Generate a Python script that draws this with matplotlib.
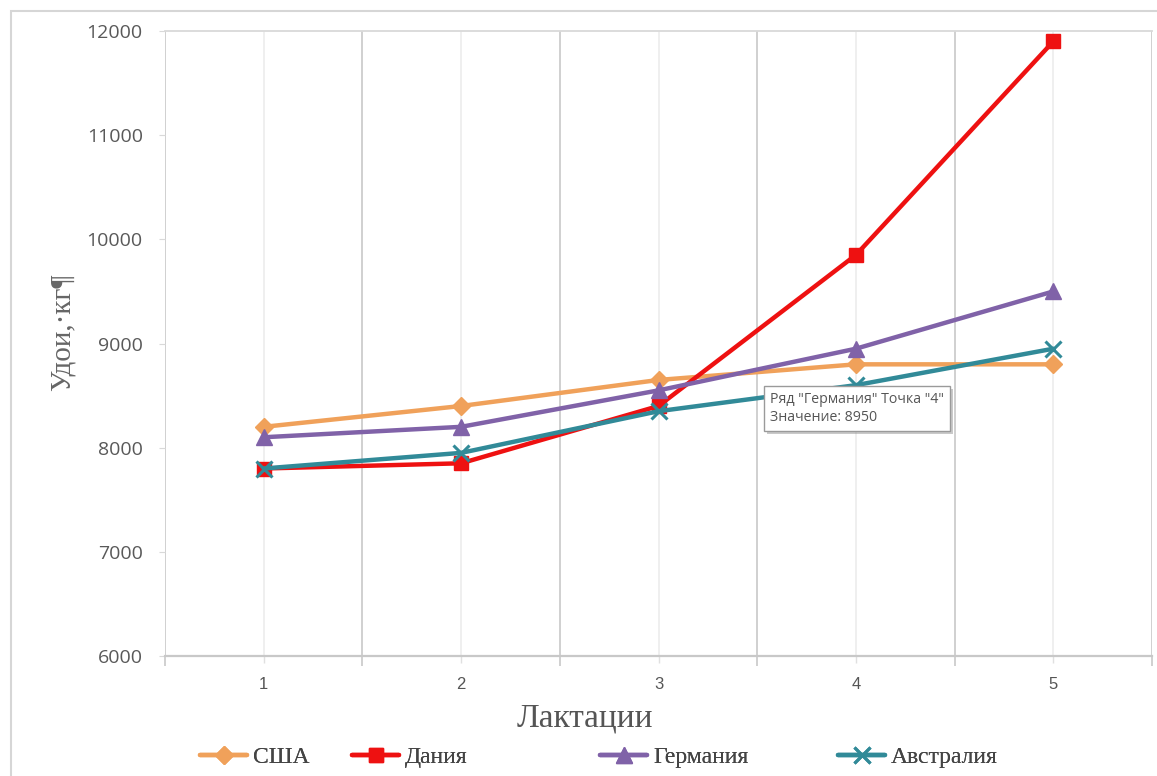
import matplotlib
matplotlib.use("Agg")
import matplotlib.pyplot as plt
import matplotlib.patheffects as pe
from matplotlib.lines import Line2D
from matplotlib.patches import Rectangle
from matplotlib.ticker import FixedLocator, NullFormatter

# ---- data ----
lactations = [1, 2, 3, 4, 5]
lactation_labels = ["1", "2", "3", "4", "5"]
usa = [8200, 8400, 8650, 8800, 8800]
denmark = [7800, 7850, 8400, 9850, 11900]
germany = [8100, 8200, 8550, 8950, 9500]
australia = [7800, 7950, 8350, 8600, 8950]
series_names = ["США", "Дания", "Германия", "Австралия"]
y_ticks = [6000, 7000, 8000, 9000, 10000, 11000, 12000]

W, H = 1157, 776
fig = plt.figure(figsize=(W / 100, H / 100), dpi=100)
fig.patch.set_facecolor("white")

# outer chart border (cropped image)
fig.patches.append(Rectangle((11 / W, -0.05), 1.2, (H - 11) / H + 0.05,
                             transform=fig.transFigure, fill=False,
                             edgecolor="#D6D6D6", linewidth=1.5))

ax = fig.add_axes([165 / W, 1 - 656 / H, (1152 - 165) / W, (656 - 31) / H])

styles = [
    (usa, "#F0A15A", "D", 9),
    (denmark, "#EE1111", "s", 10.5),
    (germany, "#8062A8", "^", 11.5),
    (australia, "#318A98", "x", 11),
]
handles = []
for (vals, col, mk, ms), name in zip(styles, series_names):
    kw = dict(color=col, linewidth=3.2, marker=mk, markersize=ms,
              markerfacecolor=col, markeredgecolor=col, solid_capstyle="round")
    if mk == "x":
        kw["markeredgewidth"] = 2.2
    ax.plot(lactations, vals, zorder=3, **kw)
    handles.append(Line2D([], [], label=name, **kw))

ax.set_xlim(0.5, 5.5)
ax.set_ylim(6000, 12000)

# x axis: boundaries as major (grid, ticks), categories as minor (labels)
ax.xaxis.set_major_locator(FixedLocator([0.5, 1.5, 2.5, 3.5, 4.5, 5.5]))
ax.xaxis.set_major_formatter(NullFormatter())
ax.xaxis.set_minor_locator(FixedLocator(lactations))
ax.set_xticklabels(lactation_labels, minor=True)
ax.tick_params(axis="x", which="major", length=7, color="#C8C8C8", width=1.2)
ax.tick_params(axis="x", which="minor", length=5, color="#E0E0E0", width=1,
               pad=10, labelsize=12, labelcolor="#555555")
ax.grid(True, axis="x", which="major", color="#D0D0D0", linewidth=1.4, zorder=0)
ax.grid(True, axis="x", which="minor", color="#EBEBEB", linewidth=1.1, zorder=0)
ax.set_axisbelow(True)

ax.set_yticks(y_ticks)
ax.tick_params(axis="y", length=4, color="#D9D9D9", pad=12,
               labelsize=14, labelcolor="#595959")
for lab in ax.get_yticklabels():
    lab.set_fontfamily("Open Sans")
for lab in ax.get_xticklabels(minor=True):
    lab.set_fontfamily("Liberation Sans")

for s in ["left", "right"]:
    ax.spines[s].set_visible(False)
ax.spines["top"].set_color("#D9D9D9")
ax.spines["top"].set_linewidth(1.3)
ax.spines["bottom"].set_color("#C8C8C8")
ax.spines["bottom"].set_linewidth(1.6)

ax.set_xlabel("Лактации", family="Liberation Serif", fontsize=24,
              color="#555555", labelpad=6)
ax.xaxis.set_label_coords((585 - 165) / (1152 - 165), -0.075)
ax.set_ylabel("Удои,·кг¶", family="Liberation Serif", fontsize=21,
              color="#666666")
ax.yaxis.set_label_coords(-(165 - 76) / (1152 - 165), (656 - 332) / (656 - 31))

# tooltip anchored at Germany point 4
ann = ax.annotate("Ряд \"Германия\" Точка \"4\"\nЗначение: 8950",
                  xy=(lactations[3], germany[3]), xytext=(-86, -43),
                  textcoords="offset pixels", ha="left", va="top",
                  fontsize=10.2, family="Open Sans", color="#555555",
                  linespacing=1.3, zorder=10,
                  bbox=dict(boxstyle="square,pad=0.42", fc="white",
                            ec="#9A9A9A", lw=1.0))
ann.get_bbox_patch().set_path_effects(
    [pe.SimplePatchShadow(offset=(2.5, -2.5), shadow_rgbFace="#888888", alpha=0.45),
     pe.Normal()])

# legend entries placed individually
legend_x = [200, 352, 600, 838]
for h, x0 in zip(handles, legend_x):
    lg = fig.legend(handles=[h], loc="center left",
                    bbox_to_anchor=(x0 / W, 1 - 757 / H),
                    frameon=False, handlelength=2.0, handletextpad=0.25,
                    borderpad=0, borderaxespad=0,
                    prop=dict(family="Liberation Serif", size=17),
                    labelcolor="#444444")
    fig.add_artist(lg)

fig.savefig("out.png", dpi=100, facecolor="white")
